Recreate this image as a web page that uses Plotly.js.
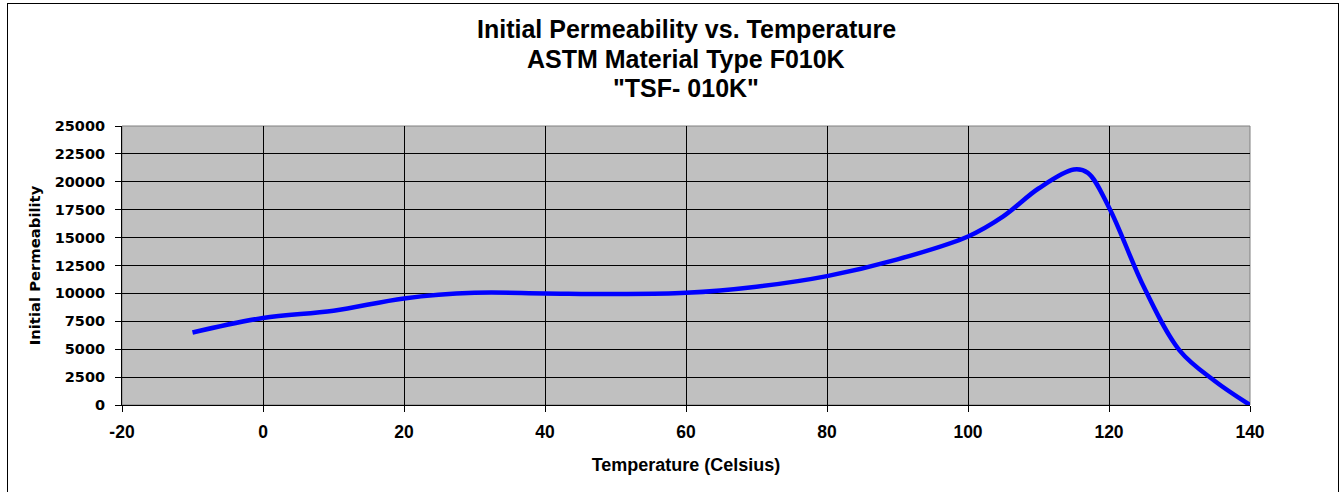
<!DOCTYPE html>
<html>
<head>
<meta charset="utf-8">
<script src="https://cdn.plot.ly/plotly-3.0.1.min.js"></script>
<style>
  html, body { margin: 0; padding: 0; background: #fff; }
  #frame { position: absolute; left: 7px; top: 3px; width: 1332px; height: 500px; border: 1px solid #000; box-sizing: border-box; }
  #chart { position: absolute; left: 0; top: 0; width: 1343px; height: 492px; }
</style>
</head>
<body>
<div id="frame"></div>
<div id="chart"></div>
<script>
const temperatures = [-10, 0, 10, 20, 30, 40, 50, 60, 70, 80, 90, 100, 105, 110, 115, 117, 120, 125, 130, 135, 140];
const permeability = [6500, 7800, 8450, 9550, 10050, 10000, 9950, 10050, 10600, 11550, 13050, 15100, 16900, 19400, 21100, 20800, 17700, 10500, 4900, 2150, 0];
const xTickValues = [-20, 0, 20, 40, 60, 80, 100, 120, 140];
const yTickValues = [0, 2500, 5000, 7500, 10000, 12500, 15000, 17500, 20000, 22500, 25000];
const titleLines = ['Initial Permeability vs. Temperature', 'ASTM Material Type F010K', '"TSF- 010K"'];
const xTitle = 'Temperature (Celsius)';
const yTitle = 'Initial Permeability';

const arial = 'Arial, "Liberation Sans", sans-serif';
const wide = '"DejaVu Sans", Verdana, sans-serif';

const plotTop = 126, plotBottom = 405;
const titleCenters = [29, 59, 88];

const trace = {
  x: temperatures,
  y: permeability,
  type: 'scatter',
  mode: 'lines',
  line: { color: '#0000ff', width: 4.5, shape: 'spline', smoothing: 1 },
  hoverinfo: 'x+y'
};

const annotations = titleLines.map((t, i) => ({
  text: '<b>' + t + '</b>',
  xref: 'paper', yref: 'paper',
  x: 0.5, xanchor: 'center',
  y: (plotBottom - titleCenters[i]) / (plotBottom - plotTop), yanchor: 'middle',
  showarrow: false,
  font: { family: arial, size: 25, color: '#000' }
}));

const layout = {
  width: 1343,
  height: 492,
  paper_bgcolor: 'rgba(0,0,0,0)',
  plot_bgcolor: '#c0c0c0',
  showlegend: false,
  margin: { l: 122, r: 93, t: plotTop, b: 492 - plotBottom },
  annotations: annotations,
  xaxis: {
    range: [-20, 140],
    tickvals: xTickValues,
    ticktext: xTickValues.map(v => '<b>' + v + '</b>'),
    showgrid: true, gridcolor: '#000', gridwidth: 1,
    zeroline: false,
    showline: true, linecolor: '#000', linewidth: 1,
    ticks: 'outside', ticklen: 6, tickcolor: '#000',
    tickfont: { family: arial, size: 17.5, color: '#000' },
    ticklabelstandoff: 5,
    title: { text: '<b>' + xTitle + '</b>', font: { family: arial, size: 18, color: '#000' }, standoff: 17 },
    fixedrange: true
  },
  yaxis: {
    range: [0, 25000],
    tickvals: yTickValues,
    ticktext: yTickValues.map(v => '<b>' + v + '</b>'),
    showgrid: true, gridcolor: '#000', gridwidth: 1,
    zeroline: false,
    showline: true, linecolor: '#000', linewidth: 1,
    ticks: 'outside', ticklen: 6, tickcolor: '#000',
    tickfont: { family: wide, size: 14.5, color: '#000' },
    ticklabelstandoff: 7,
    title: { text: '<b>' + yTitle + '</b>', font: { family: wide, size: 14.8, color: '#000' }, standoff: 10 },
    fixedrange: true
  },
  shapes: [
    { type: 'rect', xref: 'paper', yref: 'paper', x0: 0, x1: 1, y0: 0, y1: 1,
      line: { color: '#808080', width: 1 }, layer: 'below' }
  ]
};

Plotly.newPlot('chart', [trace], layout, { displayModeBar: false, staticPlot: true });
</script>
</body>
</html>
